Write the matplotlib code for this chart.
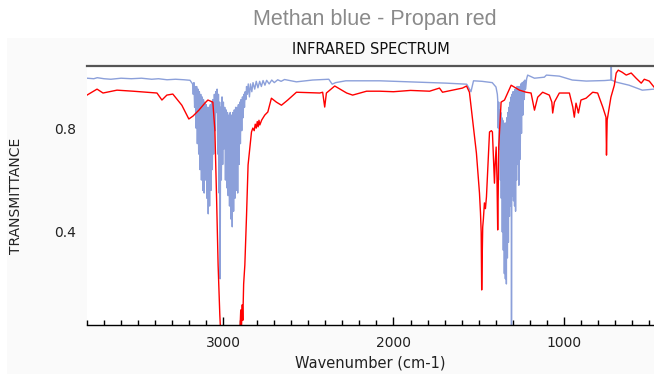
import matplotlib
matplotlib.use("Agg")
import matplotlib.pyplot as plt
from matplotlib.ticker import MultipleLocator
from matplotlib.patches import Rectangle

# Methan (blau) - Wellenzahl / Transmission
methan_wn = [3800, 3760, 3740, 3700, 3660, 3600, 3540, 3480, 3420, 3380, 3330, 3280, 3230, 3195, 3185,
             3180, 3176, 3172, 3168, 3164, 3160, 3156, 3152, 3148, 3144, 3140, 3136, 3132, 3128, 3124, 3120,
             3116, 3112, 3108, 3104, 3100, 3096, 3092, 3088, 3084, 3080, 3076, 3072, 3068, 3064, 3060, 3056,
             3052, 3048, 3044, 3040, 3036, 3032, 3028, 3024, 3021, 3018, 3015, 3011, 3007, 3003, 2999, 2995,
             2991, 2987, 2983, 2979, 2975, 2971, 2967, 2963, 2959, 2955, 2951, 2947, 2943, 2939, 2935, 2931,
             2927, 2923, 2919, 2915, 2911, 2907, 2903, 2899, 2895, 2891, 2887, 2883, 2879, 2875, 2871, 2867,
             2863, 2858, 2853, 2846, 2840, 2832, 2825, 2815, 2806, 2796, 2786, 2776, 2766, 2755, 2745, 2730,
             2715, 2700, 2680, 2660, 2640, 2570, 2475, 2380, 2360, 2340, 2280, 2160, 2080, 1900, 1690, 1570,
             1545, 1530, 1480, 1420, 1398, 1390,
             1388, 1385, 1382, 1378, 1375, 1372, 1370, 1367, 1364, 1361, 1358, 1355, 1352, 1349, 1346, 1343,
             1340, 1337, 1334, 1331, 1328, 1325, 1322, 1319, 1316, 1312, 1309, 1307, 1304, 1301, 1298, 1295,
             1292, 1289, 1286, 1283, 1280, 1277, 1274, 1271, 1268, 1264, 1260, 1256, 1252, 1248, 1244, 1240,
             1236, 1232, 1228, 1224, 1218, 1212, 1172, 1114, 1102, 1026, 950, 868, 760, 723, 721, 719,
             692, 616, 539, 470]
methan_t = [0.992, 0.990, 0.994, 0.990, 0.988, 0.992, 0.990, 0.992, 0.988, 0.990, 0.986, 0.988, 0.986, 0.984, 0.975,
            0.97, 0.93, 0.975, 0.88, 0.96, 0.80, 0.96, 0.74, 0.95, 0.70, 0.94, 0.64, 0.93, 0.60, 0.92, 0.56,
            0.91, 0.55, 0.90, 0.60, 0.89, 0.53, 0.88, 0.47, 0.88, 0.50, 0.89, 0.56, 0.90, 0.64, 0.91, 0.70,
            0.93, 0.79, 0.94, 0.86, 0.95, 0.70, 0.93, 0.55, 0.90, 0.22, 0.88, 0.60, 0.92, 0.66, 0.90, 0.72,
            0.88, 0.60, 0.87, 0.57, 0.86, 0.54, 0.85, 0.50, 0.86, 0.45, 0.85, 0.42, 0.86, 0.48, 0.87, 0.53,
            0.88, 0.56, 0.88, 0.55, 0.89, 0.66, 0.90, 0.74, 0.91, 0.79, 0.92, 0.84, 0.93, 0.88, 0.94, 0.91,
            0.96, 0.93, 0.97, 0.92, 0.97, 0.94, 0.975, 0.95, 0.98, 0.955, 0.98, 0.96, 0.983, 0.965, 0.984, 0.97,
            0.985, 0.975, 0.986, 0.98, 0.987, 0.978, 0.985, 0.988, 0.969, 0.975, 0.982, 0.982, 0.982, 0.978, 0.973, 0.969,
            0.940, 0.982, 0.980, 0.975, 0.958, 0.93,
            0.91, 0.80, 0.90, 0.72, 0.87, 0.60, 0.86, 0.53, 0.84, 0.40, 0.83, 0.33, 0.82, 0.24, 0.81, 0.22,
            0.82, 0.20, 0.84, 0.30, 0.86, 0.36, 0.88, 0.46, 0.90, 0.50, 0.92, 0.00, 0.93, 0.54, 0.94, 0.52,
            0.94, 0.50, 0.95, 0.48, 0.95, 0.60, 0.96, 0.66, 0.96, 0.58, 0.96, 0.68, 0.97, 0.78, 0.975, 0.85,
            0.98, 0.91, 0.985, 0.95, 0.99, 1.004, 0.992, 0.996, 1.004, 1.0, 0.985, 0.981, 0.983, 0.985, 1.06, 0.985,
            0.977, 0.965, 0.946, 0.95]

# Propan (rot)
propan_wn = [3800, 3741, 3706, 3624, 3530, 3389, 3360, 3331, 3296, 3243, 3202, 3178, 3143, 3108, 3090, 3061,
             3049, 3039, 3030, 3020, 3014, 2903, 2897, 2893, 2888, 2885, 2880, 2873, 2863, 2854, 2834, 2826,
             2818, 2812, 2806, 2800, 2795, 2790, 2785, 2774, 2756, 2738, 2717, 2688, 2658, 2621, 2570, 2433,
             2416, 2404, 2394, 2345, 2275, 2240, 2158, 2082, 2000, 1900, 1788, 1730, 1712, 1595, 1571, 1554,
             1513, 1495, 1489, 1485, 1482, 1479, 1476, 1472, 1466, 1460, 1454, 1436, 1425, 1419, 1407, 1403,
             1397, 1392, 1388, 1385, 1382, 1368, 1348, 1309, 1260, 1221, 1192, 1172, 1153, 1124, 1085, 1070,
             1065, 1055, 1026, 967, 947, 938, 928, 918, 914, 899, 869, 830, 801, 771, 752, 749,
             745, 723, 703, 692, 680, 657, 633, 604, 575, 545, 527, 498, 470]
propan_t = [0.927, 0.950, 0.935, 0.946, 0.942, 0.935, 0.908, 0.927, 0.931, 0.888, 0.835, 0.846, 0.869, 0.896, 0.908, 0.900,
            0.792, 0.531, 0.273, 0.081, 0.00, 0.00, 0.10, 0.03, 0.12, 0.06, 0.20, 0.273, 0.465, 0.658, 0.785, 0.800,
            0.790, 0.815, 0.800, 0.825, 0.805, 0.830, 0.812, 0.831, 0.850, 0.862, 0.915, 0.900, 0.888, 0.908, 0.938, 0.935,
            0.938, 0.881, 0.935, 0.962, 0.935, 0.927, 0.942, 0.942, 0.940, 0.945, 0.942, 0.954, 0.938, 0.954, 0.962, 0.938,
            0.704, 0.550, 0.473, 0.40, 0.177, 0.30, 0.419, 0.45, 0.512, 0.49, 0.535, 0.785, 0.79, 0.785, 0.588, 0.66,
            0.727, 0.60, 0.408, 0.55, 0.727, 0.900, 0.908, 0.965, 0.946, 0.938, 0.935, 0.869, 0.919, 0.938, 0.927, 0.90,
            0.858, 0.900, 0.935, 0.935, 0.881, 0.842, 0.896, 0.87, 0.858, 0.908, 0.915, 0.938, 0.935, 0.881, 0.842, 0.696,
            0.831, 0.919, 0.965, 1.012, 1.023, 1.015, 1.004, 1.012, 0.992, 0.973, 0.988, 0.981, 0.958]

y_ticks = [0.4, 0.8]
x_ticks = [3000, 2000, 1000]

W, H = 654, 374
fig = plt.figure(figsize=(W / 100, H / 100), dpi=100, facecolor="white")
# hellgrauer Hintergrund hinter allem
fig.patches.append(Rectangle((7 / W, 0), 1 - 7 / W, 1 - 38 / H, transform=fig.transFigure,
                             facecolor="#fafafa", edgecolor="none", zorder=-10))

ax = fig.add_axes([87 / W, 1 - 325 / H, 1 - 87 / W, (325 - 66) / H])
ax.set_facecolor("white")

ax.plot(methan_wn, methan_t, color="#8ca0da", lw=1.0)
ax.plot(propan_wn, propan_t, color="#ff0000", lw=1.0)

ax.set_xlim(3800, 470)
ax.set_ylim(0.042, 1.039)

ax.set_xticks(x_ticks)
ax.xaxis.set_minor_locator(MultipleLocator(100))
ax.set_yticks(y_ticks)
ax.set_yticklabels(["0.4", "0.8"])
ax.tick_params(axis="x", which="major", direction="in", length=6, width=1, pad=8, labelsize=10, labelcolor="#222222")
ax.tick_params(axis="x", which="minor", direction="in", length=3.5, width=1)
ax.tick_params(axis="y", length=0, pad=8, labelsize=10, labelcolor="#222222")

for s in ["left", "right"]:
    ax.spines[s].set_visible(False)
ax.spines["top"].set_color("#555555")
ax.spines["top"].set_linewidth(1.6)
ax.spines["bottom"].set_color("black")
ax.spines["bottom"].set_linewidth(1.0)

ax.set_xlabel("Wavenumber (cm-1)", fontsize=10.5, color="#222222", labelpad=4)
ax.set_ylabel("TRANSMITTANCE", fontsize=10, color="#222222", labelpad=22)

fig.text(375 / W, 1 - 20 / H, "Methan blue - Propan red", ha="center", va="center",
         fontsize=15.5, family="Liberation Sans", color="#8a8a8a")
fig.text(371 / W, 1 - 50 / H, "INFRARED SPECTRUM", ha="center", va="center",
         fontsize=10.5, color="#111111")

fig.savefig("out.png", dpi=100, facecolor=fig.get_facecolor())
